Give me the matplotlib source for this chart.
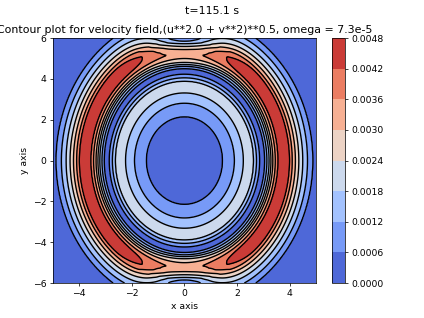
import numpy as np
import matplotlib
matplotlib.use('Agg')
import matplotlib.pyplot as plt

########################### Data #########################

# speed profile along the x axis (sides of the ring)             [m s-1]
r_side = [0.0, 0.8, 1.45, 1.90, 2.24, 2.44, 2.63, 2.74, 2.86, 2.97, 3.08, 3.22,
          3.36, 3.55, 3.80, 4.00, 4.10, 4.22, 4.35, 4.50, 4.68, 4.88, 5.20, 5.60, 7.0]
v_side = [0.0, 0.0002, 0.0006, 0.0012, 0.0018, 0.0022, 0.0018, 0.0012, 0.0006, 0.0001,
          0.0008, 0.0018, 0.0030, 0.0042, 0.0047, 0.0042, 0.0036, 0.0030, 0.0024,
          0.0018, 0.0012, 0.0006, 0.0002, 0.0001, 0.0]

# speed profile along the y axis (top / bottom), radius in y/1.48 [m s-1]
r_top = [0.0, 0.8, 1.45, 1.90, 2.24, 2.44, 2.63, 2.74, 2.86, 2.97, 3.10, 3.20,
         3.30, 3.42, 3.55, 3.68, 3.78, 3.87, 3.95, 4.05, 4.30]
v_top = [0.0, 0.0002, 0.0006, 0.0012, 0.0018, 0.0022, 0.0018, 0.0012, 0.0006, 0.0001,
         0.0010, 0.0020, 0.0028, 0.0031, 0.0034, 0.0030, 0.0024, 0.0018, 0.0012,
         0.0008, 0.0004]

levels     = [0.0, 0.0006, 0.0012, 0.0018, 0.0024, 0.0030, 0.0036, 0.0042, 0.0048]
t_now      = '115.1'
omega      = '7.3e-5'
y_stretch  = 1.48     # ellipse ratio of the rings
top_power  = 16       # how sharply the top/bottom profile takes over

########################### Grid #####################################

x = np.linspace(-5, 5, 301)
y = np.linspace(-6, 6, 361)
X, Y = np.meshgrid(x, y)
R = np.sqrt(X**2 + (Y/y_stretch)**2)
theta = np.arctan2(Y/y_stretch, X)
w = np.abs(np.sin(theta))**top_power
speed = (1 - w)*np.interp(R, r_side, v_side) + w*np.interp(R, r_top, v_top)

########################### Plot #####################################

fig = plt.figure(figsize=(6.4, 4.8), dpi=66.25)
cf = plt.contourf(X, Y, speed, levels=levels, cmap='coolwarm')
plt.colorbar(cf, ticks=levels, format='%.4f')
plt.contour(X, Y, speed, levels=levels, colors='k')
plt.xlabel('x axis')
plt.ylabel('y axis')
plt.title('Contour plot for velocity field,(u**2.0 + v**2)**0.5, omega = ' + omega)
plt.suptitle('t=' + t_now + ' s')
plt.savefig('out.png', dpi=66.25)
